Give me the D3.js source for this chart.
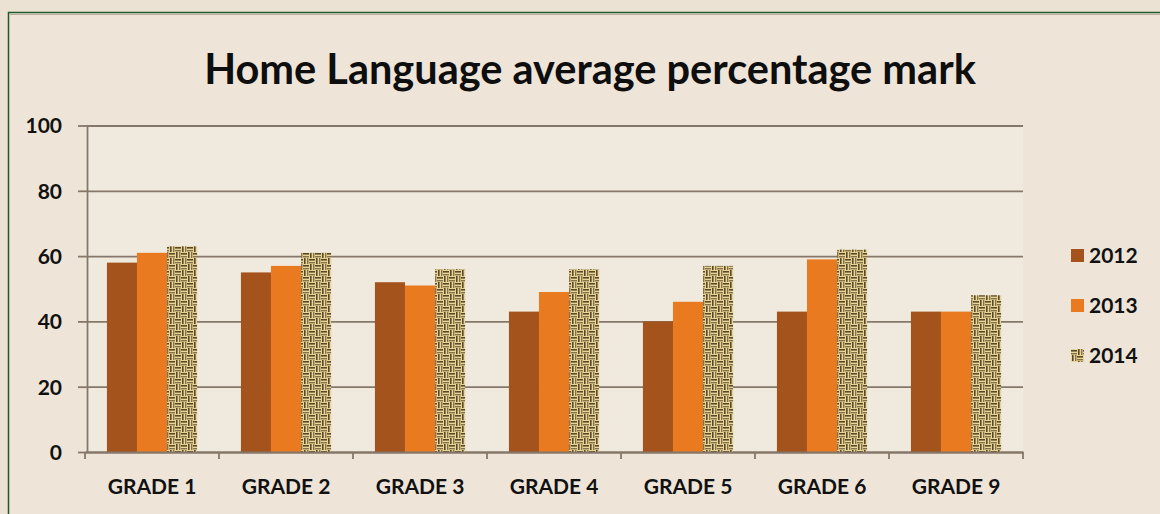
<!DOCTYPE html>
<html>
<head>
<meta charset="utf-8">
<script src="https://cdn.jsdelivr.net/npm/d3@7"></script>
<style>
    html, body { margin: 0; padding: 0; background: #ece2d3; }
    #chart svg { display: block; }
    .tick text { font-family: Lato, "Open Sans", sans-serif; font-weight: 700; fill: #111; }
</style>
</head>
<body>
<div id="chart"></div>
<script>
const grades = ['GRADE 1', 'GRADE 2', 'GRADE 3', 'GRADE 4', 'GRADE 5', 'GRADE 6', 'GRADE 9'];
const years = ['2012', '2013', '2014'];
const values2012 = [58, 55, 52, 43, 40, 43, 43];
const values2013 = [61, 57, 51, 49, 46, 59, 43];
const values2014 = [63, 61, 56, 56, 57, 62, 48];
const yTicks = [0, 20, 40, 60, 80, 100];
const title = 'Home Language average percentage mark';

const seriesByYear = { '2012': values2012, '2013': values2013, '2014': values2014 };
const rows = grades.map((g, i) => ({
    grade: g,
    values: years.map((y) => ({ year: y, value: seriesByYear[y][i] })),
}));

function createChart() {
    const width = 1160;
    const height = 514;
    const plot = { left: 85, right: 1023, top: 125.5, bottom: 452 };

    const svg = d3
        .select('#chart')
        .append('svg')
        .attr('width', width)
        .attr('height', height);

    const defs = svg.append('defs');

    // woven look for the 2014 bars
    const weave = defs
        .append('pattern')
        .attr('id', 'weave')
        .attr('patternUnits', 'userSpaceOnUse')
        .attr('width', 12)
        .attr('height', 12);
    weave.append('rect').attr('width', 12).attr('height', 12).attr('fill', '#e9d596');
    const dark = '#3f2f15';
    [[0, 0], [6, 6]].forEach(([cx, cy]) => {
        weave.append('rect').attr('x', cx).attr('y', cy + 1).attr('width', 6).attr('height', 1.6).attr('fill', dark).attr('opacity', 0.85);
        weave.append('rect').attr('x', cx).attr('y', cy + 4).attr('width', 6).attr('height', 1.4).attr('fill', dark).attr('opacity', 0.6);
    });
    [[6, 0], [0, 6]].forEach(([cx, cy]) => {
        weave.append('rect').attr('x', cx + 1).attr('y', cy).attr('width', 1.6).attr('height', 6).attr('fill', dark).attr('opacity', 0.85);
        weave.append('rect').attr('x', cx + 4).attr('y', cy).attr('width', 1.4).attr('height', 6).attr('fill', dark).attr('opacity', 0.6);
    });

    const color = d3
        .scaleOrdinal()
        .domain(years)
        .range(['#a3531b', '#e97a1f', 'url(#weave)']);

    // frame
    svg.append('rect')
        .attr('x', 8.5).attr('y', 12.5)
        .attr('width', width).attr('height', height)
        .attr('fill', '#eee5d8')
        .attr('stroke', '#1d5a2c')
        .attr('stroke-width', 1.5);
    svg.append('line')
        .attr('x1', 10).attr('x2', width).attr('y1', 14.5).attr('y2', 14.5)
        .attr('stroke', '#b9ad9c').attr('stroke-width', 1);

    svg.append('rect')
        .attr('x', plot.left).attr('y', plot.top)
        .attr('width', plot.right - plot.left).attr('height', plot.bottom - plot.top)
        .attr('fill', '#f0e9de');

    const x = d3
        .scaleBand()
        .domain(grades)
        .range([plot.left, plot.right])
        .padding(0);

    const xSub = d3
        .scaleBand()
        .domain(years)
        .range([0, x.bandwidth()])
        .paddingInner(0)
        .paddingOuter(0.73);

    const y = d3.scaleLinear().domain([0, 100]).range([plot.bottom, plot.top]);

    // gridlines
    svg.append('g')
        .attr('class', 'gridlines')
        .attr('transform', `translate(${plot.left + 2}, 0)`)
        .call(d3.axisLeft(y).tickValues(yTicks).tickFormat('').tickSize(-(plot.right - plot.left - 2)).tickSizeOuter(0))
        .call((g) => g.select('.domain').remove())
        .call((g) => g.selectAll('line').attr('stroke', '#85786a').attr('stroke-width', 1.8));

    // bars
    svg.append('g')
        .selectAll('g')
        .data(rows)
        .join('g')
        .attr('transform', (d) => `translate(${x(d.grade)}, 0)`)
        .selectAll('rect')
        .data((d) => d.values)
        .join('rect')
        .attr('x', (d) => xSub(d.year))
        .attr('y', (d) => y(d.value))
        .attr('width', xSub.bandwidth())
        .attr('height', (d) => y(0) - y(d.value))
        .attr('fill', (d) => color(d.year));

    // y axis
    svg.append('g')
        .attr('transform', `translate(${plot.left + 2}, 0)`)
        .call(d3.axisLeft(y).tickValues(yTicks).tickSize(9).tickPadding(16).tickSizeOuter(0))
        .call((g) => g.select('.domain').attr('stroke', '#85786a').attr('stroke-width', 1.8))
        .call((g) => g.selectAll('line').attr('stroke', '#85786a').attr('stroke-width', 1.8))
        .call((g) => g.selectAll('text').style('font-size', '21px').attr('dy', '0.35em'));

    // x axis
    svg.append('g')
        .attr('transform', `translate(0, ${plot.bottom})`)
        .call(d3.axisBottom(x).tickSize(0).tickPadding(27))
        .call((g) => g.select('.domain').attr('stroke', '#85786a').attr('stroke-width', 1.8))
        .call((g) => g.selectAll('text').style('font-size', '21px'));

    // category separators
    svg.append('g')
        .selectAll('line')
        .data(grades.concat(['end']))
        .join('line')
        .attr('x1', (d, i) => plot.left + i * x.step())
        .attr('x2', (d, i) => plot.left + i * x.step())
        .attr('y1', plot.bottom)
        .attr('y2', plot.bottom + 7)
        .attr('stroke', '#85786a')
        .attr('stroke-width', 1.8);

    // title
    svg.append('text')
        .attr('x', 590)
        .attr('y', 84)
        .attr('text-anchor', 'middle')
        .style('font-family', 'Lato, "Open Sans", sans-serif')
        .style('font-weight', 700)
        .style('font-size', '41.5px')
        .attr('fill', '#0e0e0e')
        .text(title);

    // legend
    const legend = svg.append('g')
        .selectAll('g')
        .data(years)
        .join('g')
        .attr('transform', (d, i) => `translate(1071, ${249 + i * 50})`);

    legend.append('rect')
        .attr('width', 13)
        .attr('height', 13)
        .attr('fill', (d) => color(d));

    legend.append('text')
        .attr('x', 18)
        .attr('y', 7)
        .attr('dy', '0.35em')
        .style('font-family', 'Lato, "Open Sans", sans-serif')
        .style('font-weight', 700)
        .style('font-size', '21px')
        .attr('fill', '#111')
        .text((d) => d);
}

document.addEventListener('DOMContentLoaded', () => {
    createChart();
});
</script>
</body>
</html>
